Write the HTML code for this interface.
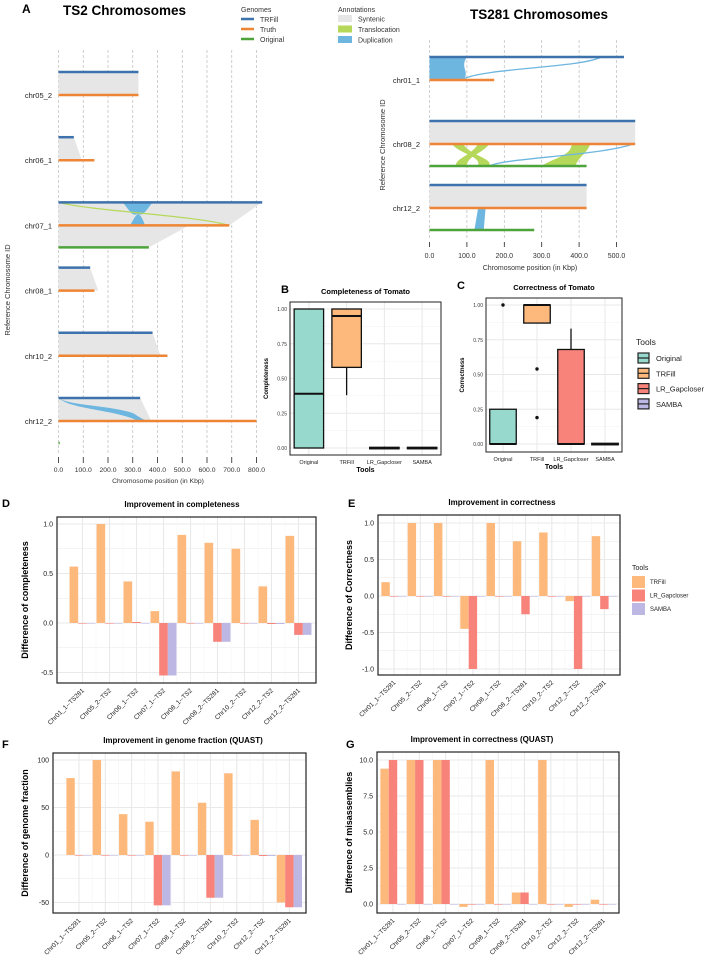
<!DOCTYPE html>
<html><head><meta charset="utf-8">
<style>
html,body{margin:0;padding:0;background:#fff;}
svg{display:block;font-family:"Liberation Sans",Arial,sans-serif;}
</style></head>
<body>
<svg id="fig" width="708" height="961" viewBox="0 0 708 961" xmlns="http://www.w3.org/2000/svg"></svg>
<script>
// ===== Panel A data =====
const ts2Rows = ['chr05_2','chr06_1','chr07_1','chr08_1','chr10_2','chr12_2'];
const ts2TRFill = [323, 62, 823, 128, 380, 330];
const ts2Truth = [323, 145, 690, 145, 440, 800];
const ts2Original = [null, null, 365, null, null, 5];
const ts2Ticks = ['0.0','100.0','200.0','300.0','400.0','500.0','600.0','700.0','800.0'];
const ts281Rows = ['chr01_1','chr08_2','chr12_2'];
const ts281TRFill = [520, 550, 420];
const ts281Truth = [173, 550, 420];
const ts281Original = [null, 420, 280];
const ts281Ticks = ['0.0','100.0','200.0','300.0','400.0','500.0'];
// ===== Box plot data (B, C) =====
const boxTools = ['Original','TRFill','LR_Gapcloser','SAMBA'];
const complQ1 = [0, 0.58, 0, 0];
const complMed = [0.39, 0.95, 0, 0];
const complQ3 = [1.0, 1.0, 0.005, 0.005];
const complWlo = [0, 0.38, 0, 0];
const complWhi = [1.0, 1.0, 0.01, 0];
const corrQ1 = [0, 0.87, 0, 0];
const corrMed = [0, 1.0, 0, 0];
const corrQ3 = [0.25, 1.0, 0.68, 0.005];
const corrWlo = [0, 0.87, 0, 0];
const corrWhi = [0.25, 1.0, 0.83, 0];
const corrOutTool = [0, 1, 1];
const corrOutVal = [1.0, 0.54, 0.19];
const boxTicks = ['0.00','0.25','0.50','0.75','1.00'];
// ===== Bar charts (D-G) =====
const categories = ['Chr01_1--TS281','Chr05_2--TS2','Chr06_1--TS2','Chr07_1--TS2','Chr08_1--TS2','Chr08_2--TS281','Chr10_2--TS2','Chr12_2--TS2','Chr12_2--TS281'];
const dTRFill = [0.57, 1.0, 0.42, 0.12, 0.89, 0.81, 0.75, 0.37, 0.88];
const dLR = [0, 0, 0.01, -0.53, 0, -0.19, 0, -0.01, -0.12];
const dSAMBA = [0, 0, 0, -0.53, 0, -0.19, 0, -0.01, -0.12];
const dTicks = [-0.5, 0, 0.5, 1.0];
const eTRFill = [0.19, 1.0, 1.0, -0.45, 1.0, 0.75, 0.87, -0.07, 0.82];
const eLR = [0, 0, 0, -1.0, 0, -0.25, 0, -1.0, -0.18];
const eSAMBA = [0, 0, 0, 0, 0, 0, 0, 0, 0];
const eTicks = [-1.0, -0.5, 0, 0.5, 1.0];
const fTRFill = [81, 100, 43, 35, 88, 55, 86, 37, -50];
const fLR = [0, 0, 0, -53, 0, -45, 0, -1, -55];
const fSAMBA = [0, 0, 0, -53, 0, -45, 0, -1, -55];
const fTicks = [-50, 0, 50, 100];
const gTRFill = [9.4, 10, 10, -0.2, 10, 0.8, 10, -0.2, 0.3];
const gLR = [10, 10, 10, 0, 0, 0.8, 0, 0, 0];
const gSAMBA = [0, 0, 0, 0, 0, 0, 0, 0, 0];
const gTicks = [0, 2.5, 5.0, 7.5, 10.0];

const NS = 'http://www.w3.org/2000/svg';
const svg = document.getElementById('fig');
function el(tag, attrs, parent, text) {
  const e = document.createElementNS(NS, tag);
  for (const k in attrs) e.setAttribute(k, attrs[k]);
  if (text !== undefined) e.textContent = text;
  (parent || svg).appendChild(e);
  return e;
}
function grp(name) {
  const g = el('g', {});
  
  
  return g;
}
const C = {trfill:'#3d72ad', truth:'#ee8534', orig:'#4ea43a', syn:'#e6e6e6', trans:'#b5d85a', dup:'#6db6e0',
  bo:'#fdb97c', br:'#f7837a', bp:'#bdb8e3', teal:'#97d9cc'};

// ===== Panel A: TS2 =====
(function(){
  const g = grp('ts2-chromosome-panel');
  const x0 = 58.5, k = 24.75/100;
  const xs = v => x0 + v*k;
  const yTruth = i => 95 + 65.2*i;
  el('text',{x:22,y:13,'font-size':12,'font-weight':'bold'},g,'A');
  const t = el('text',{x:63,y:15,'font-size':13.5,'font-weight':'bold'},g,'TS2 Chromosomes');
  
  ts2Ticks.forEach((lab,i)=>{
    const x = xs(i*100);
    el('line',{x1:x,y1:50,x2:x,y2:455,stroke:'#bbb','stroke-dasharray':'3,2','stroke-width':0.7},g);
    el('line',{x1:x,y1:457,x2:x,y2:463,stroke:'#222','stroke-width':0.8},g);
    const tt = el('text',{x:x,y:472,'font-size':6.8,'text-anchor':'middle',fill:'#333'},g,lab);
    
  });
  const xt = el('text',{x:158,y:483,'font-size':6.8,'text-anchor':'middle',fill:'#333'},g,'Chromosome position (in Kbp)');
  
  const yt = el('text',{x:10,y:290,'font-size':7.5,'text-anchor':'middle',fill:'#333',transform:'rotate(-90 10 290)'},g,'Reference Chromosome ID');
  
  ts2Rows.forEach((r,i)=>{
    const yT = yTruth(i), yB = yT-23, yO = yT+22;
    const m = Math.min(ts2TRFill[i], ts2Truth[i]);
    let endT = xs(m) + (ts2Truth[i]>ts2TRFill[i]?8:0);
    if (i === 5) endT = xs(375);
    el('polygon',{points:`${x0},${yB} ${xs(ts2TRFill[i])},${yB} ${endT},${yT} ${x0},${yT}`,fill:C.syn},g);
    if (ts2Original[i] !== null && ts2Original[i] > 20) {
      el('polygon',{points:`${x0},${yT} ${xs(ts2Truth[i])-40},${yT} ${xs(ts2Original[i])},${yO} ${x0},${yO}`,fill:C.syn},g);
    }
  });
  const y7 = yTruth(2);
  el('path',{d:`M${xs(260)},${y7-23} C${xs(300)},${y7-10} ${xs(300)},${y7-10} ${xs(320)},${y7-11.5} C${xs(340)},${y7-10} ${xs(340)},${y7-10} ${xs(380)},${y7-23} Z`,fill:C.dup},g);
  el('path',{d:`M${xs(290)},${y7} C${xs(310)},${y7-10} ${xs(315)},${y7-10} ${xs(320)},${y7-11.5} C${xs(330)},${y7-10} ${xs(335)},${y7-10} ${xs(350)},${y7} Z`,fill:C.dup},g);
  el('path',{d:`M${x0},${y7-23} C${xs(150)},${y7-14} ${xs(550)},${y7-10} ${xs(690)},${y7}`,fill:'none',stroke:C.trans,'stroke-width':1.2},g);
  const y12 = yTruth(5);
  el('path',{d:`M${x0},${y12-23} C${xs(50)},${y12-15} ${xs(200)},${y12-16} ${xs(300)},${y12-8} C${xs(330)},${y12-4} ${xs(340)},${y12} ${xs(380)},${y12} L${xs(320)},${y12} C${xs(250)},${y12-10} ${xs(60)},${y12-12} ${x0+3},${y12-21} Z`,fill:C.dup},g);
  ts2Rows.forEach((r,i)=>{
    const yT = yTruth(i);
    const lab = el('text',{x:52,y:yT+3,'font-size':7.5,'text-anchor':'end',fill:'#222'},g,r);
    
    const b = el('line',{x1:x0,y1:yT-23,x2:xs(ts2TRFill[i]),y2:yT-23,stroke:C.trfill,'stroke-width':2.5},g);
    
    const o = el('line',{x1:x0,y1:yT,x2:xs(ts2Truth[i]),y2:yT,stroke:C.truth,'stroke-width':2.5},g);
    
    if (ts2Original[i] !== null) {
      const gr = el('line',{x1:x0,y1:yT+22,x2:xs(ts2Original[i]),y2:yT+22,stroke:C.orig,'stroke-width':2.5},g);
      
    }
  });
  const lg = grp('genomes-legend');
  el('text',{x:241,y:12,'font-size':7,fill:'#333'},lg,'Genomes');
  [['TRFill',C.trfill],['Truth',C.truth],['Original',C.orig]].forEach((d,i)=>{
    el('line',{x1:241,y1:19+10*i,x2:254,y2:19+10*i,stroke:d[1],'stroke-width':2.5},lg);
    const tx = el('text',{x:260,y:22+10*i,'font-size':7,fill:'#333'},lg,d[0]);
    
  });
  const al = grp('annotations-legend');
  el('text',{x:338,y:12,'font-size':7,fill:'#333'},al,'Annotations');
  [['Syntenic',C.syn],['Translocation',C.trans],['Duplication',C.dup]].forEach((d,i)=>{
    el('rect',{x:338,y:15+10.5*i,width:14,height:7,fill:d[1]},al);
    const tx = el('text',{x:358,y:21.5+10.5*i,'font-size':7,fill:'#333'},al,d[0]);
    
  });
})();

// ===== Panel A: TS281 =====
(function(){
  const g = grp('ts281-chromosome-panel');
  const x0 = 429.5, k = 37.4/100;
  const xs = v => x0 + v*k;
  const yTruth = i => 80 + 64*i;
  const t = el('text',{x:539,y:19,'font-size':13.5,'font-weight':'bold','text-anchor':'middle'},g,'TS281 Chromosomes');
  
  ts281Ticks.forEach((lab,i)=>{
    const x = xs(i*100);
    el('line',{x1:x,y1:40,x2:x,y2:240,stroke:'#bbb','stroke-dasharray':'3,2','stroke-width':0.7},g);
    el('line',{x1:x,y1:242,x2:x,y2:247,stroke:'#222','stroke-width':0.8},g);
    const tt = el('text',{x:x,y:258,'font-size':7,'text-anchor':'middle',fill:'#333'},g,lab);
    
  });
  const xt = el('text',{x:530,y:270,'font-size':7,'text-anchor':'middle',fill:'#333'},g,'Chromosome position (in Kbp)');
  
  const yt = el('text',{x:385,y:145,'font-size':7.5,'text-anchor':'middle',fill:'#333',transform:'rotate(-90 385 145)'},g,'Reference Chromosome ID');
  
  const y1 = yTruth(0), y2 = yTruth(1), y3 = yTruth(2);
  el('path',{d:`M${x0},${y1-23} L${xs(100)},${y1-23} C${xs(80)},${y1-12} ${xs(110)},${y1-8} ${xs(90)},${y1} L${x0},${y1} Z`,fill:C.dup},g);
  el('path',{d:`M${xs(90)},${y1-1} C${xs(150)},${y1-12} ${xs(400)},${y1-12} ${xs(460)},${y1-23}`,fill:'none',stroke:C.dup,'stroke-width':1.3},g);
  el('rect',{x:x0,y:y2-23,width:xs(550)-x0,height:23,fill:C.syn},g);
  el('path',{d:`M${xs(90)},${y2} C${xs(110)},${y2+12} ${xs(170)},${y2+14} ${xs(160)},${y2+22} L${xs(130)},${y2+22} C${xs(140)},${y2+12} ${xs(80)},${y2+10} ${xs(60)},${y2} Z`,fill:C.trans},g);
  el('path',{d:`M${xs(130)},${y2} C${xs(110)},${y2+12} ${xs(70)},${y2+14} ${xs(70)},${y2+22} L${xs(100)},${y2+22} C${xs(100)},${y2+12} ${xs(140)},${y2+10} ${xs(160)},${y2} Z`,fill:C.trans},g);
  el('path',{d:`M${xs(380)},${y2} C${xs(380)},${y2+12} ${xs(330)},${y2+14} ${xs(300)},${y2+22} L${xs(390)},${y2+22} C${xs(400)},${y2+12} ${xs(420)},${y2+10} ${xs(430)},${y2} Z`,fill:C.trans},g);
  el('path',{d:`M${xs(160)},${y2+22} C${xs(200)},${y2+14} ${xs(450)},${y2+12} ${xs(545)},${y2}`,fill:'none',stroke:C.dup,'stroke-width':1.3},g);
  el('rect',{x:x0,y:y3-23,width:xs(420)-x0,height:23,fill:C.syn},g);
  el('path',{d:`M${xs(130)},${y3} L${xs(150)},${y3} L${xs(145)},${y3+22} L${xs(120)},${y3+22} Z`,fill:C.dup},g);
  ts281Rows.forEach((r,i)=>{
    const yT = yTruth(i);
    const lab = el('text',{x:420,y:yT+3,'font-size':7.5,'text-anchor':'end',fill:'#222'},g,r);
    
    const b = el('line',{x1:x0,y1:yT-23,x2:xs(ts281TRFill[i]),y2:yT-23,stroke:C.trfill,'stroke-width':2.5},g);
    
    const o = el('line',{x1:x0,y1:yT,x2:xs(ts281Truth[i]),y2:yT,stroke:C.truth,'stroke-width':2.5},g);
    
    if (ts281Original[i] !== null) {
      const gr = el('line',{x1:x0,y1:yT+22,x2:xs(ts281Original[i]),y2:yT+22,stroke:C.orig,'stroke-width':2.5},g);
      
    }
  });
})();

// ===== Box plots =====
const boxColors = [C.teal, C.bo, C.br, C.bp];
function boxPanel(cfg){
  const g = grp(cfg.name);
  const {L,R,T,B,y0,y1} = cfg;
  const ys = v => y0 + (y1 - y0)*v;
  const step = (R-L)/4;
  const xs = i => L + step*(i+0.5);
  el('rect',{x:L,y:T,width:R-L,height:B-T,fill:'#fff'},g);
  boxTicks.forEach((lab,i)=>{
    const v = i*0.25, y = ys(v);
    el('line',{x1:L,y1:y,x2:R,y2:y,stroke:'#e8e8e8','stroke-width':1},g);
    if (i<4) el('line',{x1:L,y1:ys(v+0.125),x2:R,y2:ys(v+0.125),stroke:'#f2f2f2','stroke-width':0.6},g);
    const tt = el('text',{x:L-3,y:y+2,'font-size':5,'text-anchor':'end',fill:'#333'},g,lab);
    
  });
  boxTools.forEach((tl,i)=>{
    el('line',{x1:xs(i),y1:T,x2:xs(i),y2:B,stroke:'#e8e8e8','stroke-width':1},g);
    const tt = el('text',{x:xs(i),y:B+9,'font-size':5.5,'text-anchor':'middle',fill:'#222'},g,tl);
    
  });
  const bw = step*0.78;
  boxTools.forEach((tl,i)=>{
    el('line',{x1:xs(i),y1:ys(cfg.wlo[i]),x2:xs(i),y2:ys(cfg.whi[i]),stroke:'#111','stroke-width':1.3},g);
    const top = ys(cfg.q3[i]), bot = ys(cfg.q1[i]);
    const r = el('rect',{x:xs(i)-bw/2,y:top,width:bw,height:Math.max(bot-top,1.5),fill:boxColors[i],stroke:'#111','stroke-width':1.3},g);
    
    el('line',{x1:xs(i)-bw/2,y1:ys(cfg.med[i]),x2:xs(i)+bw/2,y2:ys(cfg.med[i]),stroke:'#111','stroke-width':2},g);
  });
  if (cfg.outT) cfg.outT.forEach((ti,j)=>{
    const c = el('circle',{cx:xs(ti),cy:ys(cfg.outV[j]),r:1.7,fill:'#111'},g);
    
  });
  el('rect',{x:L,y:T,width:R-L,height:B-T,fill:'none',stroke:'#222','stroke-width':1},g);
  el('text',{x:(L+R)/2,y:T-8,'font-size':7.5,'font-weight':'bold','text-anchor':'middle'},g,cfg.title);
  el('text',{x:(L+R)/2,y:B+17,'font-size':7,'font-weight':'bold','text-anchor':'middle'},g,'Tools');
  const yx = L-22, yy = (T+B)/2;
  el('text',{x:yx,y:yy,'font-size':6,'font-weight':'bold','text-anchor':'middle',transform:`rotate(-90 ${yx} ${yy})`},g,cfg.ylab);
  el('text',{x:cfg.lx,y:cfg.ly,'font-size':11,'font-weight':'bold'},g,cfg.letter);
}
boxPanel({name:'completeness-boxplot',L:290,R:441,T:302,B:455,y0:448,y1:309,title:'Completeness of Tomato',ylab:'Completeness',
  q1:complQ1,med:complMed,q3:complQ3,wlo:complWlo,whi:complWhi,letter:'B',lx:281,ly:293});
boxPanel({name:'correctness-boxplot',L:486,R:622,T:298,B:452,y0:444,y1:305,title:'Correctness of Tomato',ylab:'Correctness',
  q1:corrQ1,med:corrMed,q3:corrQ3,wlo:corrWlo,whi:corrWhi,outT:corrOutTool,outV:corrOutVal,letter:'C',lx:457,ly:289});
(function(){
  const g = grp('tools-legend-boxplot');
  el('text',{x:636,y:345,'font-size':8.5,fill:'#222'},g,'Tools');
  boxTools.forEach((tl,i)=>{
    const y = 353+15.3*i;
    el('rect',{x:638,y:y,width:11,height:10,fill:boxColors[i],stroke:'#222','stroke-width':1.2},g);
    el('line',{x1:638,y1:y+5,x2:649,y2:y+5,stroke:'#222','stroke-width':1.2},g);
    const tx = el('text',{x:656,y:y+8,'font-size':7.5,fill:'#222'},g,tl);
    
  });
})();

// ===== Bar charts =====
function barPanel(cfg){
  const g = grp(cfg.name);
  const {L,R,T,B,vA,yA,vB,yB,x1,step} = cfg;
  const ys = v => yA + (v - vA)*(yB - yA)/(vB - vA);
  const xs = i => x1 + step*i;
  const bw = step*0.32;
  el('rect',{x:L,y:T,width:R-L,height:B-T,fill:'#fff'},g);
  const tks = cfg.ticks;
  const d = tks[1]-tks[0];
  for (let v = tks[0]-d; v <= tks[tks.length-1]+d; v += d/2) {
    const y = ys(v);
    if (y < T || y > B) continue;
    el('line',{x1:L,y1:y,x2:R,y2:y,stroke:'#e9e9e9','stroke-width':Math.abs((v-tks[0])/d % 1) < 1e-6 ? 1.1 : 0.6},g);
  }
  categories.forEach((c,i)=>{
    el('line',{x1:xs(i),y1:T,x2:xs(i),y2:B,stroke:'#e9e9e9','stroke-width':1.1},g);
    if (i>0) el('line',{x1:xs(i)-step/2,y1:T,x2:xs(i)-step/2,y2:B,stroke:'#f3f3f3','stroke-width':0.6},g);
    const lx = xs(i)+2, ly = B+8;
    const tt = el('text',{x:lx,y:ly,'font-size':6.5,'text-anchor':'end',fill:'#222',transform:`rotate(-45 ${lx} ${ly})`},g,c);
    
  });
  tks.forEach(v=>{
    const tt = el('text',{x:L-4,y:ys(v)+2.5,'font-size':7,'text-anchor':'end',fill:'#222'},g,cfg.fmt(v));
    
  });
  const series = [[cfg.a,C.bo,'trfill'],[cfg.b,C.br,'lr-gapcloser'],[cfg.c,C.bp,'samba']];
  series.forEach((s,si)=>{
    s[0].forEach((v,i)=>{
      const x = xs(i) + (si-1)*bw - bw/2;
      const y0 = ys(0), yv = ys(v);
      const r = el('rect',{x:x,y:Math.min(y0,yv),width:bw,height:Math.max(Math.abs(yv-y0),0.6),fill:s[1]},g);
      
    });
  });
  el('rect',{x:L,y:T,width:R-L,height:B-T,fill:'none',stroke:'#222','stroke-width':1.2},g);
  el('text',{x:cfg.tx,y:T-10,'font-size':8,'font-weight':'bold','text-anchor':'middle'},g,cfg.title);
  const yx = cfg.ylx, yy = (T+B)/2;
  el('text',{x:yx,y:yy,'font-size':9,'font-weight':'bold','text-anchor':'middle',transform:`rotate(-90 ${yx} ${yy})`},g,cfg.ylab);
  el('text',{x:cfg.lx,y:cfg.ly,'font-size':11,'font-weight':'bold'},g,cfg.letter);
}
const f1 = v => v.toFixed(1);
barPanel({name:'completeness-improvement-chart',L:57,R:316,T:517,B:683,vA:0,yA:623,vB:1,yB:524,x1:82.5,step:27,
  a:dTRFill,b:dLR,c:dSAMBA,ticks:dTicks,fmt:f1,title:'Improvement in completeness',tx:182,ylab:'Difference of completeness',ylx:28,letter:'D',lx:2,ly:507});
barPanel({name:'correctness-improvement-chart',L:378,R:620,T:515,B:675,vA:0,yA:596,vB:1,yB:523,x1:394,step:26.3,
  a:eTRFill,b:eLR,c:eSAMBA,ticks:eTicks,fmt:f1,title:'Improvement in correctness',tx:502,ylab:'Difference of Correctness',ylx:352,letter:'E',lx:348,ly:507});
barPanel({name:'genome-fraction-improvement-chart',L:53,R:306,T:753,B:913,vA:0,yA:855,vB:100,yB:760,x1:79,step:26.3,
  a:fTRFill,b:fLR,c:fSAMBA,ticks:fTicks,fmt:v=>String(v),title:'Improvement in genome fraction (QUAST)',tx:183,ylab:'Difference of genome fraction',ylx:28,letter:'F',lx:2,ly:748});
barPanel({name:'misassembly-improvement-chart',L:377,R:619,T:752,B:913,vA:0,yA:904,vB:10,yB:760,x1:393,step:26.3,
  a:gTRFill,b:gLR,c:gSAMBA,ticks:gTicks,fmt:f1,title:'Improvement in correctness (QUAST)',tx:482,ylab:'Difference of misassemblies',ylx:352,letter:'G',lx:346,ly:748});
(function(){
  const g = grp('tools-legend-bars');
  el('text',{x:632,y:570,'font-size':7,fill:'#222'},g,'Tools');
  [['TRFill',C.bo],['LR_Gapcloser',C.br],['SAMBA',C.bp]].forEach((d,i)=>{
    const y = 576+13.5*i;
    el('rect',{x:632,y:y,width:13,height:12,fill:d[1]},g);
    const tx = el('text',{x:650,y:y+8,'font-size':6,fill:'#222'},g,d[0]);
    
  });
})();
</script>
</body></html>
